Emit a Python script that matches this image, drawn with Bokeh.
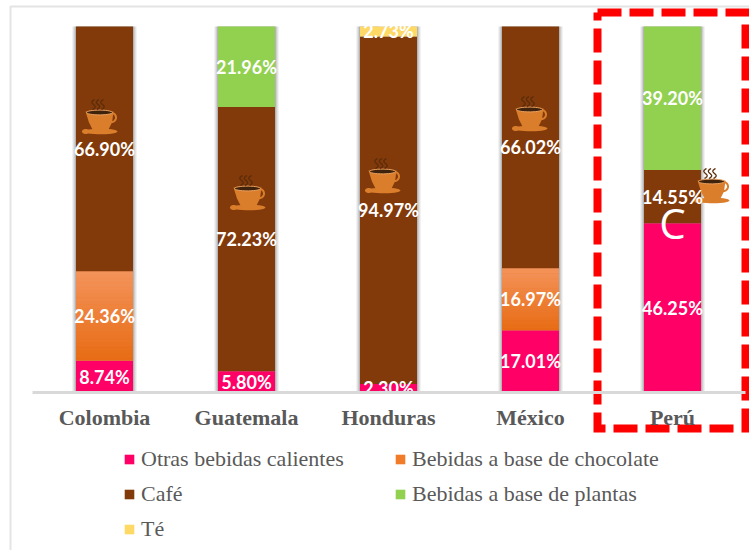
import numpy as np
from bokeh.plotting import figure
from bokeh.models import ColumnDataSource, FixedTicker, Range1d, Legend, LegendItem, LinearAxis
from bokeh.core.properties import value
from bokeh.embed import file_html
from bokeh.resources import INLINE

countries = ["Colombia", "Guatemala", "Honduras", "México", "Perú"]
otras = [8.74, 5.80, 2.30, 17.01, 46.25]
chocolate = [24.36, 0, 0, 16.97, 0]
cafe = [66.90, 72.23, 94.97, 66.02, 14.55]
plantas = [0, 21.96, 0, 0, 39.20]
te = [0, 0, 2.73, 0, 0]
series_names = ["Otras bebidas calientes", "Bebidas a base de chocolate", "Café",
                "Bebidas a base de plantas", "Té"]
series_values = [otras, chocolate, cafe, plantas, te]
series_colors = ["#FF0066", "#F07C2A", "#833A0B", "#92D050", "#FFD966"]
# Cup decorations: top-left corner in page pixels
cup_x = [82, 230, 365, 512, 694]
cup_y = [99, 175, 158, 96, 168]

W, H = 749, 550
# page-pixel layout of the plot area
X0, STEP = 104, 142       # centre of first bar, distance between bars
Y0, Y100 = 392, 26        # pixel rows of 0 % and 100 %
UX = lambda px: 1 + (px - X0) / STEP
UY = lambda py: (Y0 - py) * 100 / (Y0 - Y100)
positions = list(range(1, len(countries) + 1))

p = figure(width=W, height=H, output_backend="svg", toolbar_location=None,
           x_range=Range1d(UX(0), UX(W)), y_range=Range1d(UY(H), UY(0)),
           x_axis_location=None, y_axis_location=None,
           min_border=0, outline_line_color=None,
           background_fill_color="white", border_fill_color="white")
p.grid.visible = False
p.extra_x_ranges = {"px": Range1d(0, W)}
p.extra_y_ranges = {"px": Range1d(H, 0)}

ax = LinearAxis(fixed_location=0, bounds=(UX(32), UX(745)))
ax.ticker = FixedTicker(ticks=positions)
ax.major_label_overrides = dict(zip(positions, countries))
ax.axis_line_color = "#D9D9D9"
ax.axis_line_width = 3
ax.major_tick_line_color = None
ax.minor_tick_line_color = None
ax.major_label_standoff = 6
ax.major_label_text_font = "Liberation Serif"
ax.major_label_text_font_style = "bold"
ax.major_label_text_font_size = "22px"
ax.major_label_text_color = "#595959"
p.add_layout(ax, "below")

BW = 57 / STEP
# soft side shadow
for extra, a in [(8, 0.07), (6, 0.09), (4, 0.12), (2, 0.18)]:
    p.vbar(x=positions, top=[100] * 5, bottom=[0] * 5, width=BW + extra / STEP,
           color="#404040", alpha=a, line_color=None)

base = np.zeros(5)
rends = {}
labels = {"x": [], "y": [], "t": []}
for name, vals, col in zip(series_names, series_values, series_colors):
    vals = np.array(vals, dtype=float)
    mask = vals > 0
    xs = [c for c, m in zip(positions, mask) if m]
    src = ColumnDataSource(dict(x=xs, top=(base + vals)[mask].tolist(), bottom=base[mask].tolist()))
    rends[name] = p.vbar(x="x", top="top", bottom="bottom", width=BW, source=src,
                         fill_color=col, line_color=None)
    if name == "Bebidas a base de chocolate":
        # vertical gradient, lighter at the top
        n = 24
        c0 = np.array([0xE8, 0x6C, 0x14])
        c1 = np.array([0xF4, 0x94, 0x5C])
        for i in range(n):
            f0, f1 = i / n, (i + 1) / n
            m = (f0 + f1) / 2
            c = c0 + (c1 - c0) * m
            p.vbar(x=xs, bottom=(base[mask] + vals[mask] * f0).tolist(),
                   top=(base[mask] + vals[mask] * f1 + 0.05).tolist(), width=BW,
                   fill_color="#%02x%02x%02x" % tuple(int(v) for v in c), line_color=None)
    labels["x"] += xs
    labels["y"] += (base + vals / 2)[mask].tolist()
    labels["t"] += ["%.2f%%" % v for v in vals[mask]]
    base = base + vals


def ell(cx, cy, rx, ry, t0=0, t1=2 * np.pi, n=30):
    t = np.linspace(t0, t1, n)
    return cx + rx * np.cos(t), cy + ry * np.sin(t)


PX = dict(x_range_name="px", y_range_name="px")


def draw_cup(x0, y0):
    sx, sy = ell(x0 + 18, y0 + 32, 17, 2.8)
    p.patch(sx, sy, fill_color="#DA7E2C", line_color=None, **PX)
    bx, by = ell(x0 + 3, y0 + 32, 3.5, 2.5)
    p.patch(bx, by, fill_color="#DA7E2C", line_color=None, **PX)
    hx, hy = ell(x0 + 29, y0 + 18, 4.5, 4.5, -1.8, 1.9)
    p.line(hx, hy, line_color="#DA7E2C", line_width=2, **PX)
    cx = np.array([3, 31, 29.5, 25, 11, 6.5]) + x0
    cy = np.array([12, 12, 23, 32, 32, 23]) + y0
    p.patch(cx, cy, fill_color="#DA7E2C", line_color=None, **PX)
    ex, ey = ell(x0 + 17, y0 + 13, 13, 2.4)
    p.patch(ex, ey, fill_color="#3E220C", line_color="#E8A060", line_width=1, **PX)
    for dx in (10, 14.5, 19):
        t = np.linspace(0, 1, 12)
        p.line(x0 + dx + 2.2 * np.sin(t * 2 * np.pi) + t * 2, y0 + 10 - t * 10,
               line_color="#5A2C0A", line_width=1.3, **PX)


for cx0, cy0 in zip(cup_x, cup_y):
    draw_cup(cx0, cy0)

p.text(x="x", y="y", text="t", source=ColumnDataSource(labels), text_color="white",
       text_font=value("Lato"), text_font_style="bold", text_font_size="18px",
       text_align="center", text_baseline="middle")
p.text(x=[672], y=[222], text=["C"], text_color="white", text_font=value("Open Sans"),
       text_font_size="42px", text_align="center", text_baseline="middle", **PX)


def legend(names, x, y):
    lg = Legend(items=[LegendItem(label=n, renderers=[rends[n]]) for n in names],
                location=(x, y), orientation="vertical", padding=0, margin=0,
                border_line_color=None, background_fill_alpha=0, glyph_width=12, glyph_height=12,
                label_text_font="Liberation Serif", label_text_font_size="22px",
                label_text_color="#595959", label_standoff=6, spacing=9)
    p.add_layout(lg, "center")


legend(["Otras bebidas calientes", "Café", "Té"], 123, 8)
legend(["Bebidas a base de chocolate", "Bebidas a base de plantas"], 394, 43)

# chart frame (top and left edges)
p.line([10, 10, W], [H, 6, 6], line_color="#E4E4E4", line_width=2, **PX)
# dashed red highlight
p.line([597, 745, 745, 597, 597], [12, 12, 428, 428, 12], line_color="#FF0000", line_width=8,
       line_dash="24 8", line_join="miter", line_cap="butt", **PX)

open("out.html", "w").write(file_html(p, INLINE))
